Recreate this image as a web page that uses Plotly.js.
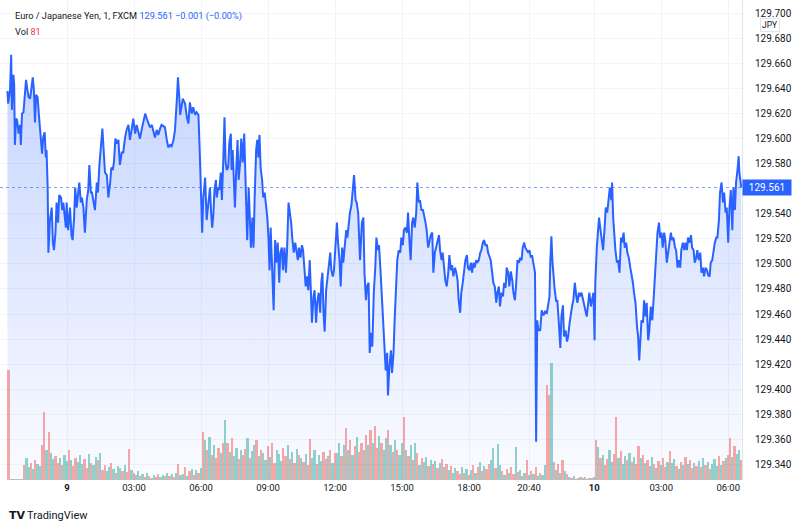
<!DOCTYPE html>
<html>
<head>
<meta charset="utf-8">
<script src="https://cdn.plot.ly/plotly-3.0.1.min.js"></script>
<style>
html,body{margin:0;padding:0;background:#fff;}
#chart{width:800px;height:527px;}
</style>
</head>
<body>
<div id="chart"></div>
<script>
// ---- Data (EUR/JPY, 1-minute, FXCM) ----
// bar index counted in 1-minute bars from 00:00 of day 9 (session gaps compressed)
const barIndex = [
-160,-158,-153,-150,-148,-144,-142,-140,-137,-134,-130,-126,-124,-121,-117,-113,-110,-107,-103,-99,
-95,-92,-89,-86,-83,-79,-75,-71,-67,-64,-60,-57,-55,-52,-50,-46,-41,-38,-35,-31,
-28,-24,-21,-16,-13,-10,-6,-3,-1,3,8,12,15,19,22,26,30,33,37,40,
44,48,53,57,60,64,67,71,75,80,83,87,91,95,99,102,107,111,116,119,
123,126,130,134,138,142,147,151,156,160,165,169,174,178,183,187,192,196,201,205,
210,214,218,223,228,232,236,241,245,250,254,259,263,268,272,277,281,286,290,295,
298,302,304,311,317,322,326,330,335,339,344,348,353,357,360,363,366,371,375,380,
384,387,390,393,396,400,402,406,409,413,416,420,423,426,429,433,436,440,442,445,
449,451,454,458,461,465,468,472,476,478,481,484,488,492,494,498,501,504,508,511,
514,517,520,524,527,531,535,538,541,544,547,550,553,555,559,562,566,570,573,577,
580,584,588,591,595,598,602,605,609,613,616,620,623,627,631,634,638,641,645,648,
652,655,658,662,665,669,672,676,680,683,686,689,692,696,699,703,707,710,714,717,
721,725,728,732,735,739,742,746,750,753,757,760,764,768,771,775,778,782,785,787,
792,796,799,803,806,810,813,817,820,824,828,831,835,838,842,846,849,853,856,860,
862,866,870,873,877,880,884,887,891,895,898,902,905,909,913,916,920,923,927,930,
934,938,941,945,948,952,956,959,963,966,970,973,977,981,984,988,991,995,999,1002,
1006,1009,1013,1016,1020,1024,1027,1031,1034,1038,1042,1045,1049,1052,1056,1059,1063,1067,1070,1074,
1077,1081,1085,1088,1092,1095,1099,1102,1106,1110,1113,1117,1120,1124,1128,1131,1135,1138,1142,1145,
1149,1153,1156,1160,1163,1167,1171,1174,1178,1181,1185,1188,1192,1196,1199,1203,1206,1210,1214,1217,
1221,1224,1228,1231,1235,1239,1242,1246,1249,1253,1257,1258,1260,1263,1266,1271,1275,1280,1284,1289,
1293,1296,1298,1301,1304,1307,1310,1314,1317,1321,1325,1328,1332,1335,1339,1343,1346,1350,1353,1357,
1360,1364,1368,1371,1375,1378,1382,1386,1389,1393,1396,1400,1403,1407,1411,1414,1417,1419,1423,1427,
1429,1433,1437,1440,1444,1447,1451,1454,1458,1462,1464,1467,1470,1473,1477,1480,1484,1488,1491,1495,
1498,1502,1505,1509,1513,1516,1520,1523,1527,1531,1534,1537,1539,1543,1547,1550,1554,1557,1561,1564,
1568,1572,1575,1579,1582,1586,1590,1593,1597,1600,1604,1607,1611,1615,1618,1622,1625,1629,1633,1636,
1640,1643,1647,1650,1654,1658,1661,1665,1668,1672,1676,1679,1683,1686,1690,1693,1697,1701,1704,1708,
1711,1715,1719,1722,1726,1729,1733,1736,1740,1744,1747,1751,1754,1758,1762,1765,1769,1772,1776,1779,
1783,1787,1790,1794,1797,1801,1804,1806,1810,1811
];
const closePrice = [
129.638,129.628,129.639,129.667,129.623,129.651,129.644,129.595,129.616,129.615,129.604,129.611,129.595,129.620,129.621,129.639,129.647,129.640,129.633,129.632,
129.644,129.649,129.639,129.613,129.635,129.633,129.617,129.601,129.588,129.601,129.605,129.585,129.591,129.561,129.509,129.535,129.545,129.517,129.511,129.525,
129.549,129.533,129.555,129.553,129.543,129.549,129.535,129.529,129.549,129.527,129.545,129.523,129.519,129.537,129.561,129.545,129.557,129.565,129.549,129.553,
129.545,129.525,129.551,129.559,129.579,129.557,129.557,129.549,129.543,129.565,129.557,129.579,129.591,129.608,129.588,129.573,129.571,129.553,129.565,129.577,
129.575,129.581,129.600,129.596,129.599,129.579,129.589,129.589,129.601,129.607,129.611,129.599,129.608,129.616,129.604,129.611,129.605,129.600,129.608,129.613,
129.620,129.616,129.613,129.609,129.611,129.607,129.601,129.607,129.603,129.608,129.611,129.610,129.609,129.599,129.593,129.595,129.594,129.599,129.607,129.631,
129.649,129.631,129.619,129.632,129.628,129.617,129.612,129.629,129.620,129.625,129.619,129.621,129.619,129.585,129.553,129.525,129.553,129.569,129.535,129.549,
129.561,129.541,129.529,129.539,129.559,129.567,129.553,129.561,129.559,129.573,129.551,129.585,129.617,129.581,129.575,129.577,129.597,129.604,129.575,129.591,
129.561,129.545,129.571,129.599,129.567,129.581,129.600,129.581,129.604,129.585,129.559,129.519,129.561,129.537,129.513,129.537,129.513,129.553,129.591,129.599,
129.585,129.603,129.577,129.567,129.553,129.557,129.545,129.537,129.521,129.495,129.529,129.501,129.485,129.463,129.519,129.501,129.517,129.485,129.509,129.513,
129.495,129.513,129.493,129.511,129.549,129.543,129.533,129.521,129.509,129.517,129.509,129.503,129.513,129.505,129.515,129.511,129.495,129.482,129.490,129.479,
129.503,129.466,129.453,129.474,129.479,129.453,129.469,129.477,129.461,129.485,129.493,129.461,129.446,129.479,129.487,129.501,129.509,129.495,129.490,129.495,
129.517,129.533,129.517,129.503,129.482,129.513,129.501,129.513,129.527,129.521,129.537,129.541,129.547,129.559,129.571,129.551,129.549,129.541,129.519,129.503,
129.533,129.537,129.493,129.471,129.482,129.485,129.429,129.445,129.434,129.477,129.497,129.521,129.511,129.515,129.495,129.471,129.450,129.434,129.415,129.429,
129.395,129.418,129.431,129.413,129.429,129.455,129.482,129.503,129.511,129.509,129.521,129.515,129.527,129.529,129.525,129.541,129.517,129.503,129.533,129.537,
129.529,129.541,129.565,129.549,129.551,129.543,129.543,129.537,129.533,129.527,129.513,129.517,129.523,129.525,129.493,129.509,129.513,129.519,129.523,129.511,
129.503,129.509,129.495,129.487,129.482,129.493,129.507,129.495,129.499,129.490,129.497,129.494,129.487,129.471,129.461,129.477,129.485,129.495,129.503,129.507,
129.497,129.495,129.501,129.493,129.501,129.497,129.503,129.501,129.503,129.509,129.511,129.517,129.519,129.515,129.515,129.509,129.505,129.503,129.493,129.485,
129.482,129.469,129.477,129.482,129.466,129.477,129.474,129.485,129.481,129.497,129.493,129.482,129.494,129.487,129.477,129.471,129.482,129.503,129.501,129.505,
129.503,129.513,129.517,129.513,129.511,129.509,129.511,129.505,129.507,129.501,129.493,129.458,129.358,129.455,129.447,129.447,129.463,129.459,129.462,129.461,
129.469,129.474,129.501,129.522,129.501,129.485,129.479,129.470,129.471,129.453,129.433,129.458,129.467,129.442,129.447,129.438,129.442,129.453,129.461,129.467,
129.471,129.485,129.474,129.469,129.477,129.474,129.477,129.471,129.466,129.463,129.458,129.469,129.477,129.466,129.474,129.477,129.439,129.485,129.513,129.529,
129.537,129.527,129.519,129.511,129.529,129.545,129.541,129.553,129.561,129.551,129.565,129.537,129.519,129.511,129.501,129.503,129.493,129.521,129.517,129.525,
129.513,129.517,129.509,129.505,129.497,129.493,129.485,129.477,129.469,129.450,129.442,129.423,129.437,129.455,129.453,129.471,129.458,129.469,129.439,129.447,
129.466,129.455,129.469,129.490,129.511,129.525,129.533,129.521,129.525,129.513,129.525,129.519,129.501,129.511,129.515,129.525,129.519,129.521,129.513,129.511,
129.497,129.503,129.497,129.511,129.517,129.511,129.517,129.511,129.521,129.517,129.523,129.513,129.511,129.501,129.505,129.511,129.503,129.509,129.493,129.497,
129.490,129.497,129.495,129.491,129.490,129.501,129.503,129.511,129.517,129.521,129.521,129.535,129.557,129.565,129.549,129.557,129.541,129.545,129.517,129.543,
129.559,129.527,129.561,129.543,129.565,129.575,129.586,129.573,129.563,129.561
];

// volume, aggregated in 6-bar buckets starting at bar -160
const volStartBar = -160;
const volBucket = 6;
const volume = [
440,6,4,5,3,6,4,
60,88,52,70,45,82,64,56,
140,272,120,192,110,
84,96,70,88,60,100,76,120,80,
56,90,72,100,64,84,48,104,70,60,92,80,108,
40,60,36,52,68,44,30,56,48,38,62,34,124,40,
28,20,36,16,24,12,30,18,10,22,14,26,12,20,16,28,18,24,14,30,64,22,
24,52,16,36,44,20,40,30,48,
192,
160,120,172,100,140,88,128,110,150,240,
150,112,168,96,130,84,120,100,124,168,90,116,140,160,96,120,
110,80,136,92,148,70,120,104,76,128,96,140,84,112,68,124,100,88,
72,104,60,164,90,120,66,100,78,112,84,96,120,70,108,
110,150,96,140,208,120,160,100,136,172,112,148,120,180,140,200,150,216,130,176,150,120,170,200,140,112,160,120,100,148,
252,
120,96,140,80,148,110,
60,88,72,92,56,80,64,76,48,70,84,52,66,
40,56,28,48,36,24,52,30,44,20,
40,60,28,52,72,36,56,44,64,80,128,48,144,60,
36,20,44,28,52,24,132,32,40,16,28,80,20,36,
24,52,16,30,20,
60,380,340,468,
72,40,64,28,80,36,24,
12,8,16,6,10,14,8,12,6,10,8,14,
160,132,90,
100,60,84,120,72,104,252,88,116,64,96,80,108,72,92,64,136,88,100,70,
80,56,92,64,48,76,60,88,52,72,116,68,84,56,44,72,60,92,64,80,48,68,56,76,52,88,60,72,44,64,84,56,96,60,76,88,
100,168,92,136,104,120,81
];
// g = up bucket, r = down bucket
const volumeDir =
"rggrgrgrgg"+"rgrggrrgrg"+"grrgrggrgr"+"rgggrrgrgg"+"rgrrggrgrg"+
"grgrrgrggr"+"grgrggrrgg"+"rgrgrgrggr"+"grgrgrgrgr"+"grgrrgrgrg"+
"rggrgrrgrg"+"grgrggrgrr"+"gggrrgrgrg"+"rgrgrrggrg"+"grrgrgrggr"+
"grgrgrgrrg"+"rgrgrrgrgg"+"rgrgrggrgr"+"grgrgrggrg"+"rgrgrgrgrg"+
"grrgrgrgrg"+"rgrgrrggrg"+"grgrgrrgrg"+"rgrgrgrgrg"+"grrgrgrgrg"+
"rgrgrgrgrg"+"grgrgrgrrg"+"grrgrggrgr"+"grrgrgrggr"+"grgrrgrggr"+
"grgrgrrgrg"+"rgrgrgggrg"+"rgrrgrggr";

const tickBars   = [0,180,360,540,720,900,1080,1241,1416,1596,1776];
const tickLabels = ["<b>9</b>","03:00","06:00","09:00","12:00","15:00","18:00","20:40","<b>10</b>","03:00","06:00"];

const symbolTitle = "Euro / Japanese Yen, 1, FXCM";
const changeText = "−0.001 (−0.00%)";
const currency = "JPY";

// ---- Build ----
const volX = volume.map((v,i)=>volStartBar + volBucket*i + volBucket/2);
const volColors = volume.map((v,i)=> volumeDir[i]==='g' ? 'rgba(38,166,154,0.5)' : 'rgba(239,83,80,0.5)');
const lastPrice = closePrice[closePrice.length-1];
const lastVol = volume[volume.length-1];

const yMin = 129.3275, yMax = 129.7107;
// price ticks every 0.020; the one hidden behind the last-price label is skipped
const priceTicks = [];
for (let k = 0; k <= 18; k++) {
  const v = +(129.34 + 0.02*k).toFixed(3);
  if (Math.abs(v - lastPrice) > 0.006) priceTicks.push(v);
}
const font = "Roboto, 'Liberation Sans', sans-serif";

const traces = [
  {
    type:'bar', x:volX, y:volume, width:volBucket,
    marker:{color:volColors, line:{width:0}},
    xaxis:'x', yaxis:'y2', hoverinfo:'skip'
  },
  {
    type:'scatter', mode:'lines', x:barIndex, y:closePrice,
    line:{color:'#2962ff', width:2, shape:'linear'},
    fill:'tozeroy',
    fillgradient:{type:'vertical', start:yMin, stop:129.667,
      colorscale:[[0,'rgba(41,98,255,0.02)'],[1,'rgba(41,98,255,0.27)']]},
    xaxis:'x', yaxis:'y', hoverinfo:'skip'
  }
];

const layout = {
  width:800, height:527,
  margin:{l:0, r:58, t:0, b:47},
  paper_bgcolor:'#ffffff', plot_bgcolor:'#ffffff',
  showlegend:false,
  font:{family:font, size:10, color:'#131722'},
  xaxis:{
    range:[-180,1813], tickvals:tickBars, ticktext:tickLabels,
    showgrid:true, gridcolor:'#f2f4f8', gridwidth:1,
    zeroline:false, showline:false, ticks:'',
    tickfont:{family:font, size:9.5, color:'#131722'}
  },
  yaxis:{
    range:[yMin,yMax], side:'right', tickvals:priceTicks,
    ticktext:priceTicks.map(v=>v.toFixed(3)),
    showgrid:true, gridcolor:'#f2f4f8',
    zeroline:false, showline:true, linecolor:'#e0e3eb', linewidth:1,
    ticks:'', ticklabelstandoff:10,
    tickfont:{family:font, size:10, color:'#131722'}
  },
  yaxis2:{range:[0,1920], overlaying:'y', visible:false, fixedrange:true},
  bargap:0,
  shapes:[
    {type:'line', xref:'paper', x0:0, x1:1, yref:'y', y0:lastPrice, y1:lastPrice,
     line:{color:'rgba(41,98,255,0.6)', width:1, dash:'dot'}}
  ],
  annotations:[
    {xref:'paper', yref:'paper', x:13/742, y:1-16/480, xanchor:'left', yanchor:'middle', showarrow:false,
     text: symbolTitle + ' <span style="color:#2962ff">' + lastPrice.toFixed(3) + ' ' + changeText + '</span>',
     font:{family:font, size:9.2, color:'#131722'}},
    {xref:'paper', yref:'paper', x:13/742, y:1-32/480, xanchor:'left', yanchor:'middle', showarrow:false,
     text:'Vol <span style="color:#f23645">' + lastVol + '</span>',
     font:{family:font, size:9.2, color:'#131722'}},
    {xref:'paper', yref:'y', x:1, y:lastPrice, xanchor:'left', yanchor:'middle', showarrow:false,
     text:lastPrice.toFixed(3), bgcolor:'#2962ff', borderpad:2, width:44,
     font:{family:font, size:10, color:'#ffffff'}},
    {xref:'paper', yref:'paper', x:769.5/742, y:1-25.5/480, xanchor:'center', yanchor:'middle', showarrow:false,
     text:currency, bgcolor:'#ffffff', bordercolor:'#e0e3eb', borderwidth:1, borderpad:1,
     font:{family:font, size:8.5, color:'#131722'}},
    {xref:'paper', yref:'paper', x:7/742, y:-35/480, xanchor:'left', yanchor:'middle', showarrow:false,
     text:'<b>TV</b>', font:{family:"'DejaVu Sans', sans-serif", size:11, color:'#131722'}},
    {xref:'paper', yref:'paper', x:25/742, y:-35/480, xanchor:'left', yanchor:'middle', showarrow:false,
     text:'TradingView', font:{family:font, size:11, color:'#131722'}}
  ]
};

Plotly.newPlot('chart', traces, layout, {displayModeBar:false, staticPlot:true});
</script>
</body>
</html>
